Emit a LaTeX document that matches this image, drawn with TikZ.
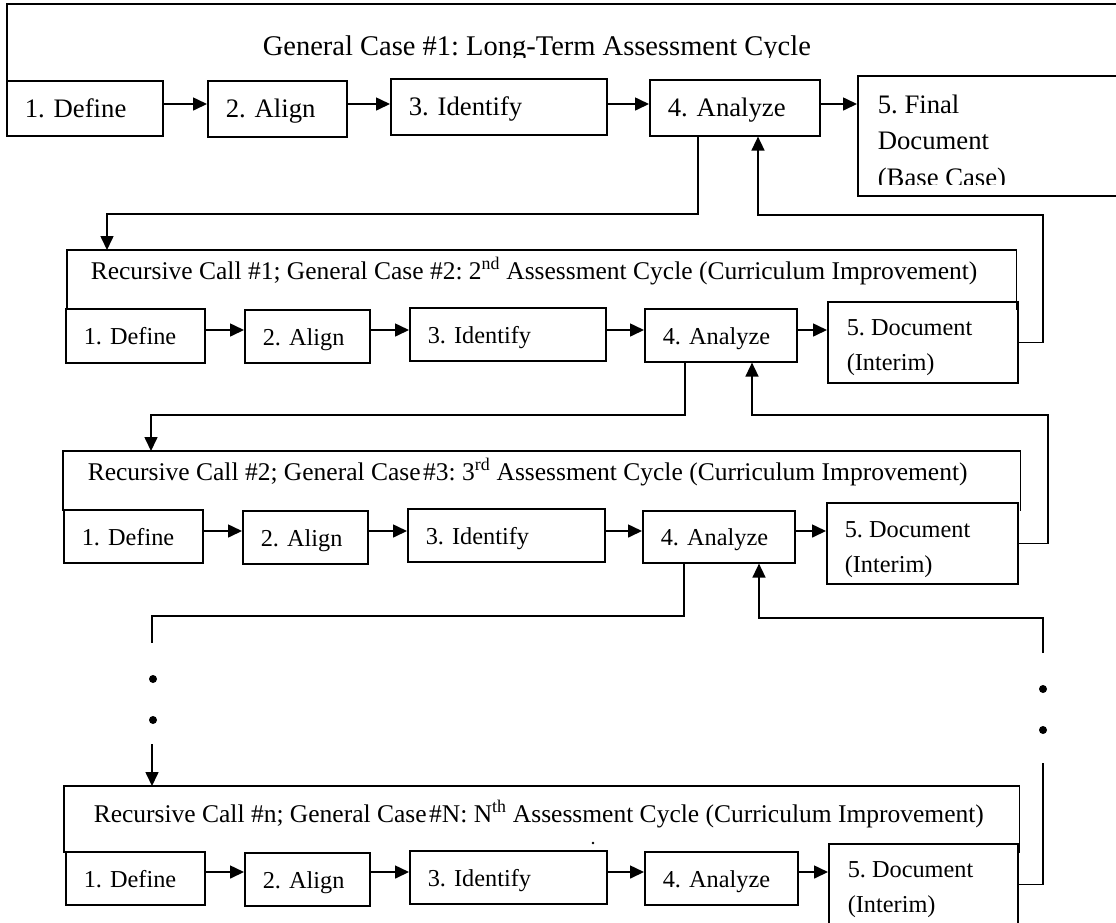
\documentclass[tikz,border=0pt]{standalone}
\usepackage{fontspec}
\setmainfont{Liberation Serif}
\usetikzlibrary{arrows.meta,calc}
\frenchspacing

% a framed step box: style, name, x, y, width, height, label
\newcommand\cell[7]{%
  \pgfmathsetmacro\cellw{#5-36}%
  \node[cell,#1,minimum width=#5pt,minimum height=#6pt,text width=\cellw pt] (#2) at (#3,#4) {#7};}

\begin{document}
\begin{tikzpicture}[x=1pt,y=-1pt,line width=1.6pt,
  cell/.style={draw,anchor=north west,inner xsep=18pt,inner ysep=0pt,
    text height=18pt,text depth=0pt,align=left},
  plainbox/.style={draw,anchor=north west,inner sep=0pt},
  frame/.style={anchor=north west,inner sep=0pt},
  rowone/.style={font=\fontsize{26.7}{36.5}\selectfont},
  rowon/.style={font=\fontsize{24.3}{34.5}\selectfont},
  heading/.style={anchor=base west,inner sep=0pt,font=\fontsize{25.5}{30}\selectfont},
  doctext/.style={anchor=base west,inner sep=0pt,align=left},
  arr/.style={-{Triangle[length=14pt,width=13pt]}},
  dot/.style={circle,fill,inner sep=0pt,minimum size=8pt}]

\useasboundingbox (0,0) rectangle (1116,922);

% ---------- general case 1 ----------
\node[frame,minimum width=1120pt,minimum height=76pt] (f1) at (7,4) {};
\draw (f1.south west) -- (f1.north west) -- (f1.north east);
\begin{scope}
  \clip (0,0) rectangle (1116,57);
  \node[heading,font=\fontsize{28.5}{32}\selectfont] (t1) at (262,55)
    {General Case \#1: Long-Term Assessment Cycle};
\end{scope}
\cell{rowone}{d1}{6}{80}{156}{55}{1. Define}
\cell{rowone}{a1}{207}{80}{139}{56}{2. Align}
\cell{rowone}{i1}{390}{78}{216}{56}{3. Identify}
\cell{rowone}{an1}{649}{79}{170}{56}{4. Analyze}
\node[plainbox,minimum width=268pt,minimum height=120pt] (doc1) at (857,75) {};
\begin{scope}
  \clip (857,60) rectangle (1116,184);
  \node[doctext,rowone] (doc1t) at (877,186) {5. Final\\Document\\(Base Case)};
\end{scope}
\coordinate (r1) at (0,104);
\draw[arr] (d1.east |- r1) -- (a1.west |- r1);
\draw[arr] (a1.east |- r1) -- (i1.west |- r1);
\draw[arr] (i1.east |- r1) -- (an1.west |- r1);
\draw[arr] (an1.east |- r1) -- (doc1.west |- r1);

% ---------- recursive call 1 ----------
\node[frame,minimum width=948pt,minimum height=58pt] (f2) at (67,250) {};
\draw (f2.south west) -- (f2.north west) -- (f2.north east) -- (f2.south east);
\node[heading] (t2) at (90,279)
  {Recursive Call \#1; General Case \#2: 2\textsuperscript{nd} Assessment Cycle (Curriculum Improvement)};
\cell{rowon}{d2}{65}{308}{139}{54}{1. Define}
\cell{rowon}{a2}{244}{309}{125}{53}{2. Align}
\cell{rowon}{i2}{409}{307}{196}{53}{3. Identify}
\cell{rowon}{an2}{644}{308}{152}{53}{4. Analyze}
\node[plainbox,minimum width=190pt,minimum height=81pt] (doc2) at (827,301) {};
\node[doctext,rowon] (doc2t) at (846,370) {5. Document\\(Interim)};
\coordinate (r2) at (0,330);
\draw[arr] (d2.east |- r2) -- (a2.west |- r2);
\draw[arr] (a2.east |- r2) -- (i2.west |- r2);
\draw[arr] (i2.east |- r2) -- (an2.west |- r2);
\draw[arr] (an2.east |- r2) -- (doc2.west |- r2);

% ---------- recursive call 2 ----------
\node[frame,minimum width=956pt,minimum height=58pt] (f3) at (63,451) {};
\draw (f3.south west) -- (f3.north west) -- (f3.north east) -- (f3.south east);
\node[heading] (t3) at (87,480)
  {Recursive Call \#2; General Case\hspace{0.1em}\#3: 3\textsuperscript{rd} Assessment Cycle (Curriculum Improvement)};
\cell{rowon}{d3}{63}{509}{139}{53}{1. Define}
\cell{rowon}{a3}{242}{510}{125}{53}{2. Align}
\cell{rowon}{i3}{407}{508}{197}{53}{3. Identify}
\cell{rowon}{an3}{642}{510}{152}{52}{4. Analyze}
\node[plainbox,minimum width=191pt,minimum height=81pt] (doc3) at (826,502) {};
\node[doctext,rowon] (doc3t) at (844,572) {5. Document\\(Interim)};
\coordinate (r3) at (0,531);
\draw[arr] (d3.east |- r3) -- (a3.west |- r3);
\draw[arr] (a3.east |- r3) -- (i3.west |- r3);
\draw[arr] (i3.east |- r3) -- (an3.west |- r3);
\draw[arr] (an3.east |- r3) -- (doc3.west |- r3);

% ---------- recursive call n ----------
\node[frame,minimum width=954pt,minimum height=65pt] (f4) at (64,786) {};
\draw (f4.south west) -- (f4.north west) -- (f4.north east) -- (f4.south east);
\node[heading] (t4) at (93,822)
  {Recursive Call \#n; General Case\hspace{0.1em}\#N: N\textsuperscript{th} Assessment Cycle (Curriculum Improvement)};
\node[circle,fill,inner sep=0pt,minimum size=2.6pt] (speck) at (593,843) {};
\cell{rowon}{d4}{65}{851}{139}{53}{1. Define}
\cell{rowon}{a4}{244}{852}{125}{53}{2. Align}
\cell{rowon}{i4}{409}{850}{197}{53}{3. Identify}
\cell{rowon}{an4}{644}{851}{153}{53}{4. Analyze}
\node[plainbox,minimum width=189pt,minimum height=81pt] (doc4) at (828,843) {};
\node[doctext,rowon] (doc4t) at (847,912) {5. Document\\(Interim)};
\coordinate (r4) at (0,872);
\draw[arr] (d4.east |- r4) -- (a4.west |- r4);
\draw[arr] (a4.east |- r4) -- (i4.west |- r4);
\draw[arr] (i4.east |- r4) -- (an4.west |- r4);
\draw[arr] (an4.east |- r4) -- (doc4.west |- r4);

% ---------- calls down, returns up ----------
\coordinate (dn1) at (698,214);
\coordinate (lf1) at (107,214);
\draw[arr] (dn1 |- an1.south) -- (dn1) -- (lf1) -- (lf1 |- f2.north);
\coordinate (rt1) at (1043,215);
\coordinate (up1) at (758,215);
\draw[arr] (doc2.east) -| (rt1) -- (up1) -- (up1 |- an1.south);

\coordinate (dn2) at (685,415);
\coordinate (lf2) at (151,415);
\draw[arr] (dn2 |- an2.south) -- (dn2) -- (lf2) -- (lf2 |- f3.north);
\coordinate (rt2) at (1048,415);
\coordinate (up2) at (752,415);
\draw[arr] (doc3.east) -| (rt2) -- (up2) -- (up2 |- an2.south);

\coordinate (dn3) at (684,616);
\coordinate (lf3) at (152,616);
\coordinate (lf3a) at (152,643);
\coordinate (lf3b) at (152,744);
\draw (dn3 |- an3.south) -- (dn3) -- (lf3) -- (lf3a);
\node[dot] (ldot1) at (153,679) {};
\node[dot] (ldot2) at (153,720) {};
\draw[arr] (lf3b) -- (lf3b |- f4.north);
\coordinate (rt3) at (1043,618);
\coordinate (rt3a) at (1043,653);
\coordinate (rt3b) at (1043,763);
\coordinate (up3) at (759,618);
\draw (doc4.east) -| (rt3b);
\node[dot] (rdot1) at (1043,730) {};
\node[dot] (rdot2) at (1043,689) {};
\draw[arr] (rt3a) -- (rt3) -- (up3) -- (up3 |- an3.south);
\end{tikzpicture}
\end{document}
